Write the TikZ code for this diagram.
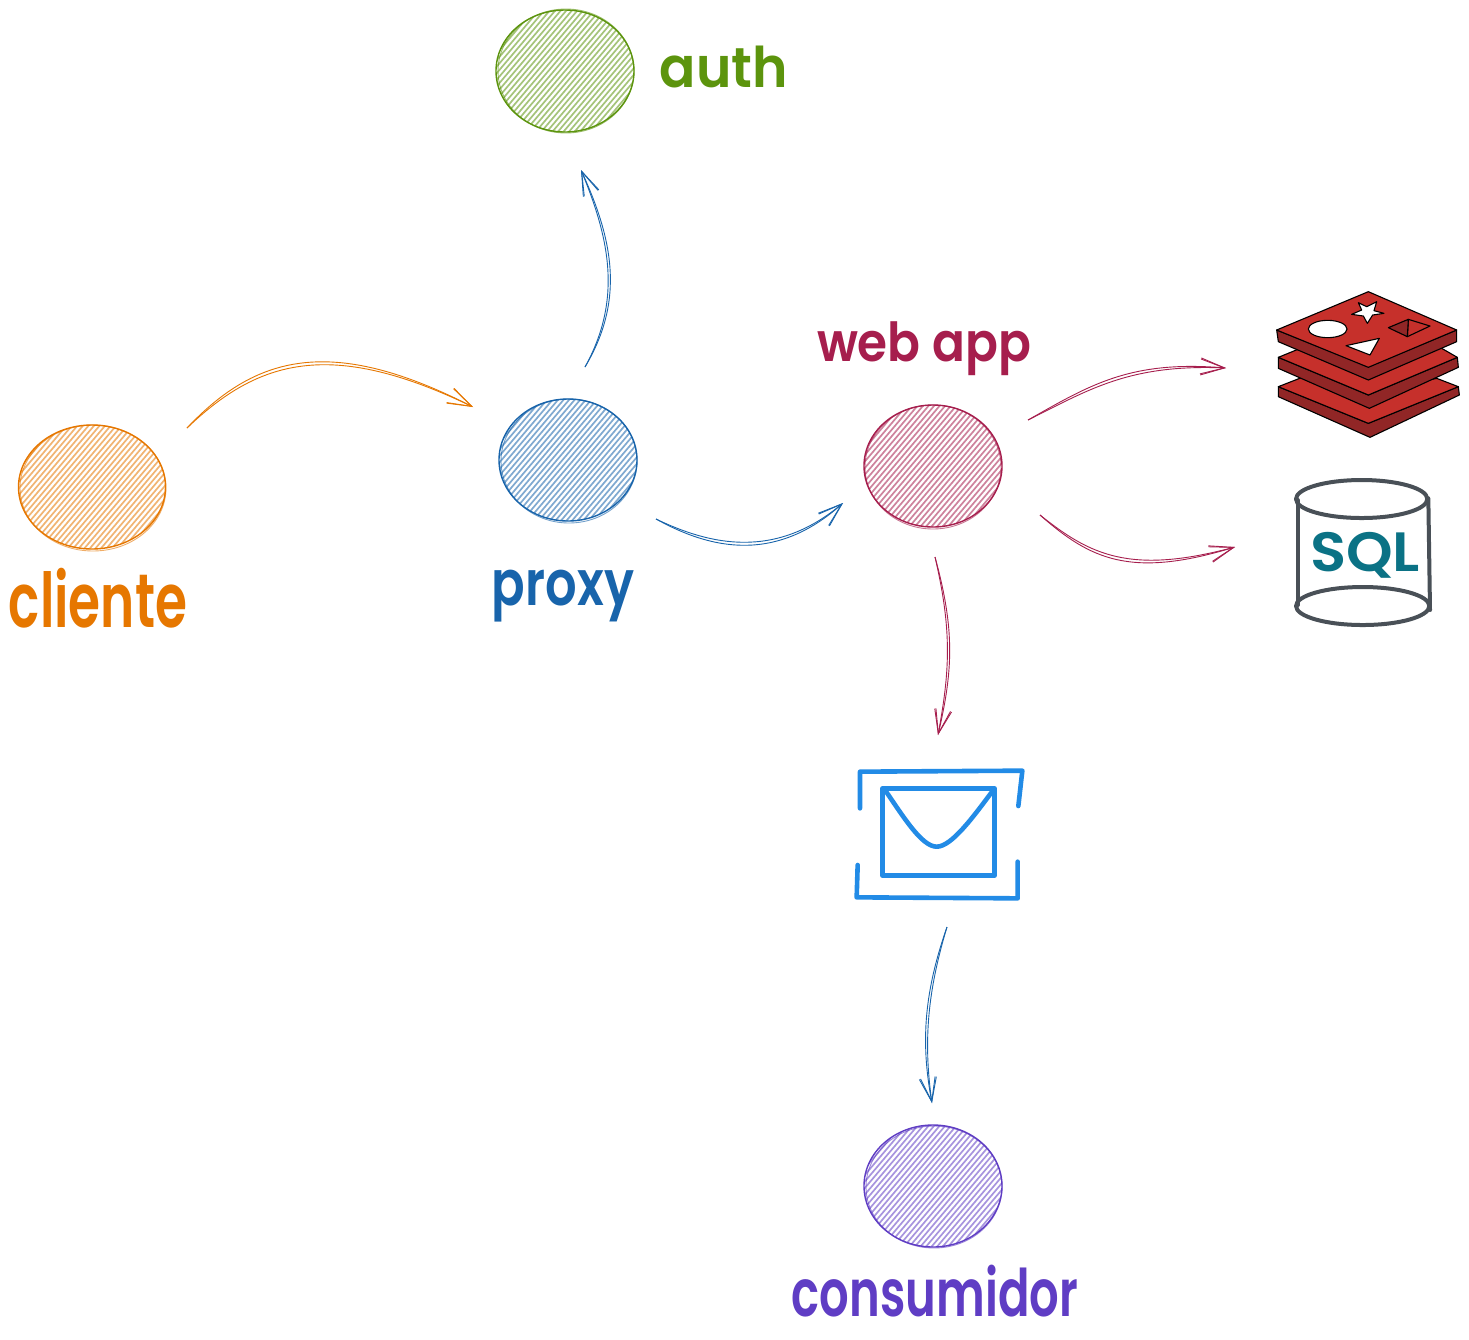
\documentclass[tikz,border=0pt]{standalone}
\usepackage{graphicx}
\usepackage{fontspec}
\setmainfont{Poppins}[UprightFont=* SemiBold]
\usetikzlibrary{arrows.meta,shapes.geometric}
\definecolor{cOrange}{HTML}{E67700}
\definecolor{cBlue}{HTML}{1864AB}
\definecolor{cGreen}{HTML}{5C940D}
\definecolor{cCrimson}{HTML}{A61E4D}
\definecolor{cPurple}{HTML}{5F3DC4}
\definecolor{cMail}{HTML}{228BE6}
\definecolor{cGray}{HTML}{495057}
\definecolor{cTeal}{HTML}{0B7285}
\definecolor{cRedis}{HTML}{C6302B}
\definecolor{cRedisDark}{HTML}{912626}
\tikzset{
  sketchball/.style={ellipse,inner sep=0pt,outer sep=0pt,draw=#1,line width=0.7pt,
    path picture={
      \foreach \d in {-90,-87,...,90}
        \draw[#1,line width=0.85pt,opacity=0.55]
          ([shift={({\d-110},{\d+130})}]path picture bounding box.center) --
          ([shift={({\d+110},{\d-130})}]path picture bounding box.center);
    }},
  roughring/.style={draw=#1,line width=0.45pt,opacity=0.6},
  sketchlabel/.style={inner sep=0pt,outer sep=0pt},
  edgeline/.style={line width=0.45pt,draw=#1,-{Straight Barb[length=12pt,width=8pt,line width=0.45pt]}},
  iconline/.style={line width=2.3pt,line cap=round,line join=round},
  redisline/.style={draw=black,line width=0.55pt,line join=round}
}
\begin{document}
\begin{tikzpicture}[x=0.5pt,y=-0.5pt]
\useasboundingbox (0,0) rectangle (1469,1340);
\fill[white] (0,0) rectangle (1469,1340);

% balls
\node[sketchball=cOrange,minimum width=73.5pt,minimum height=62pt] (cliente) at (92,487) {};
\node[sketchball=cGreen,minimum width=69pt,minimum height=61pt] (auth) at (565,71) {};
\node[sketchball=cBlue,minimum width=69pt,minimum height=61pt] (proxy) at (568,460) {};
\node[sketchball=cCrimson,minimum width=69pt,minimum height=61pt] (webapp) at (933,466) {};
\node[sketchball=cPurple,minimum width=69pt,minimum height=61pt] (consumidor) at (933,1186) {};
\draw[roughring=cOrange] (93,488) ellipse (73 and 63);
\draw[roughring=cGreen] (566,71) ellipse (68 and 62);
\draw[roughring=cBlue] (569,461) ellipse (68 and 62);
\draw[roughring=cCrimson] (933,467) ellipse (68 and 62);
\draw[roughring=cPurple] (934,1187) ellipse (68 and 61);

% labels
\node[sketchlabel,text=cOrange] (lcliente) at (98,598) {\resizebox*{89pt}{30pt}{cliente}};
\node[sketchlabel,text=cBlue] (lproxy) at (563,596) {\resizebox*{71pt}{26pt}{proxy}};
\node[sketchlabel,text=cGreen] (lauth) at (724,67) {\resizebox*{64pt}{21pt}{auth}};
\node[sketchlabel,text=cCrimson] (lweb) at (924,349) {\resizebox*{107pt}{27pt}{web app}};
\node[sketchlabel,text=cPurple] (lcons) at (935,1291) {\resizebox*{143pt}{26pt}{consumidor}};

% connector ends
\coordinate (e1a) at (187,428); \coordinate (e1b) at (473,407);
\coordinate (e2a) at (585,367); \coordinate (e2b) at (581,170);
\coordinate (e3a) at (656,519); \coordinate (e3b) at (843,503);
\coordinate (e4a) at (1028,420); \coordinate (e4b) at (1226,368);
\coordinate (e5a) at (1040,515); \coordinate (e5b) at (1235,547);
\coordinate (e6a) at (935,557); \coordinate (e6b) at (938,735);
\coordinate (e7a) at (947,927); \coordinate (e7b) at (932,1103);

\foreach \dx/\dy in {0/0,3/4}{
  \draw[edgeline=cOrange] (e1a) .. controls +(68+\dx,-72+\dy) and +(-143,-73+\dy) .. (e1b);
  \draw[edgeline=cBlue] (e2a) .. controls +(40-\dx,-67) and +(32-\dx,70) .. (e2b);
  \draw[edgeline=cBlue] (e3a) .. controls +(54,26+\dy) and +(-68,57+\dy) .. (e3b);
  \draw[edgeline=cCrimson] (e4a) .. controls +(62,-35+\dy) and +(-96,-8+\dy) .. (e4b);
  \draw[edgeline=cCrimson] (e5a) .. controls +(50,40+\dy) and +(-105,28+\dy) .. (e5b);
  \draw[edgeline=cCrimson] (e6a) .. controls +(17+\dx,73) and +(12+\dx,-65) .. (e6b);
  \draw[edgeline=cBlue] (e7a) .. controls +(-22+\dx,63) and +(-12+\dx,-63) .. (e7b);
}

% redis icon
\begin{scope}[shift={(1250,280)},x=0.16667pt,y=-0.16667pt]
  \filldraw[redisline,fill=cRedisDark] (85,320) -- (85,350) -- (360,472) -- (628,345) -- (625,320) -- (355,430) -- cycle;
  \filldraw[redisline,fill=cRedis] (85,320) -- (200,275) -- (355,340) -- (560,295) -- (625,320) -- (355,430) -- cycle;
  \filldraw[redisline,fill=cRedisDark] (85,232) -- (85,265) -- (358,385) -- (625,262) -- (622,232) -- (355,345) -- cycle;
  \filldraw[redisline,fill=cRedis] (85,232) -- (200,185) -- (355,250) -- (540,185) -- (622,232) -- (355,345) -- cycle;
  \filldraw[redisline,fill=cRedisDark] (80,150) -- (85,185) -- (355,300) -- (620,185) -- (620,150) -- (355,260) -- cycle;
  \filldraw[redisline,fill=cRedis] (80,150) -- (355,35) -- (620,150) -- (355,262) -- cycle;
  \filldraw[redisline,fill=white] (233,147) ellipse (58 and 26);
  \filldraw[redisline,fill=white] (288,197) -- (388,175) -- (360,225) -- cycle;
  \filldraw[redisline,fill=white] (325,68) -- (350,80) -- (380,65) -- (372,92) -- (402,100) -- (368,105) -- (352,130) -- (340,108) -- (305,103) -- (335,90) -- cycle;
  \filldraw[redisline,fill=cRedis] (475,118) -- (540,138) -- (472,170) -- cycle;
  \filldraw[redisline,fill=cRedisDark] (415,143) -- (475,118) -- (472,170) -- cycle;
\end{scope}

% SQL cylinder
\begin{scope}[shift={(1250,280)},x=0.16667pt,y=-0.16667pt]
  \draw[cGray,iconline,line width=2pt] (335,657) ellipse (197 and 57);
  \draw[cGray,iconline,line width=2pt] (338,978) ellipse (200 and 57);
  \draw[cGray,iconline,line width=2pt] (143,660) -- (143,975);
  \draw[cGray,iconline,line width=2pt] (535,655) -- (540,990);
\end{scope}
\node[sketchlabel,text=cTeal] (lsql) at (1365,555) {\resizebox*{55pt}{23pt}{SQL}};

% mail icon
\begin{scope}[shift={(840,750)},x=0.16667pt,y=-0.16667pt]
  \draw[cMail,iconline] (60,175) -- (60,65) -- (547,62) -- (535,168);
  \draw[cMail,iconline] (53,345) -- (50,442) -- (533,445) -- (533,335);
  \draw[cMail,iconline] (128,115) -- (463,115) -- (463,377) -- (128,377) -- cycle;
  \draw[cMail,iconline] (135,120) .. controls (190,200) and (245,290) .. (290,290) .. controls (335,290) and (400,200) .. (460,120);
\end{scope}
\end{tikzpicture}
\end{document}
